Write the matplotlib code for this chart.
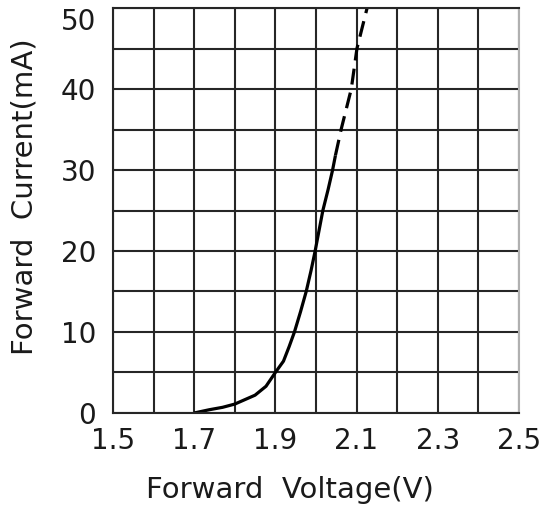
import matplotlib
matplotlib.use("Agg")
import matplotlib.pyplot as plt

# forward voltage (V) vs forward current (mA)
v_solid = [1.70, 1.737, 1.77, 1.80, 1.85, 1.877, 1.90, 1.92, 1.934, 1.947,
           1.962, 1.976, 1.988, 1.998, 2.017, 2.030, 2.041, 2.048]
i_solid = [0.0, 0.4, 0.7, 1.1, 2.2, 3.3, 5.0, 6.4, 8.2, 10.0,
           12.5, 15.0, 17.6, 20.0, 25.0, 27.6, 30.0, 31.8]
v_dash = [2.048, 2.062, 2.087, 2.101, 2.126]
i_dash = [31.8, 35.0, 40.0, 45.0, 50.0]

x_ticks = [1.5, 1.7, 1.9, 2.1, 2.3, 2.5]
y_ticks = [0, 10, 20, 30, 40, 50]

fig = plt.figure(figsize=(5.59, 5.11), dpi=100)
ax = fig.add_axes([0.2021, 0.1918, 0.7262, 0.7925])

ax.plot(v_solid, i_solid, color="black", lw=2.3,
        solid_joinstyle="round", solid_capstyle="butt")
ax.plot(v_dash, i_dash, color="black", lw=2.3, dashes=(5, 2.6))

ax.set_xlim(1.5, 2.5)
ax.set_ylim(0, 50)
ax.set_xticks([1.5 + 0.1 * k for k in range(11)], minor=True)
ax.set_yticks(range(0, 51, 5), minor=True)
ax.set_xticks(x_ticks)
ax.set_yticks(y_ticks)
ax.set_xticklabels([f"{t:.1f}" for t in x_ticks])
ax.set_yticklabels([str(t) for t in y_ticks])
ax.grid(which="both", color="#262626", lw=1.5)
ax.tick_params(which="both", length=0, labelsize=20, colors="#1a1a1a")
ax.tick_params(axis="x", pad=10)
ax.tick_params(axis="y", pad=12)
# top label sits just under the frame edge, as in the reference
ax.get_yticklabels()[-1].set_va("top")

for s in ax.spines.values():
    s.set_color("#262626")
    s.set_linewidth(1.5)
ax.spines["right"].set_color("#b0b0b0")

ax.set_xlabel("Forward  Voltage(V)", fontsize=21, color="#1a1a1a")
ax.set_ylabel("Forward  Current(mA)", fontsize=21, color="#1a1a1a")
ax.xaxis.set_label_coords(0.435, -0.156)
ax.yaxis.set_label_coords(-0.184, 0.533)

fig.savefig("out.png", dpi=100)
